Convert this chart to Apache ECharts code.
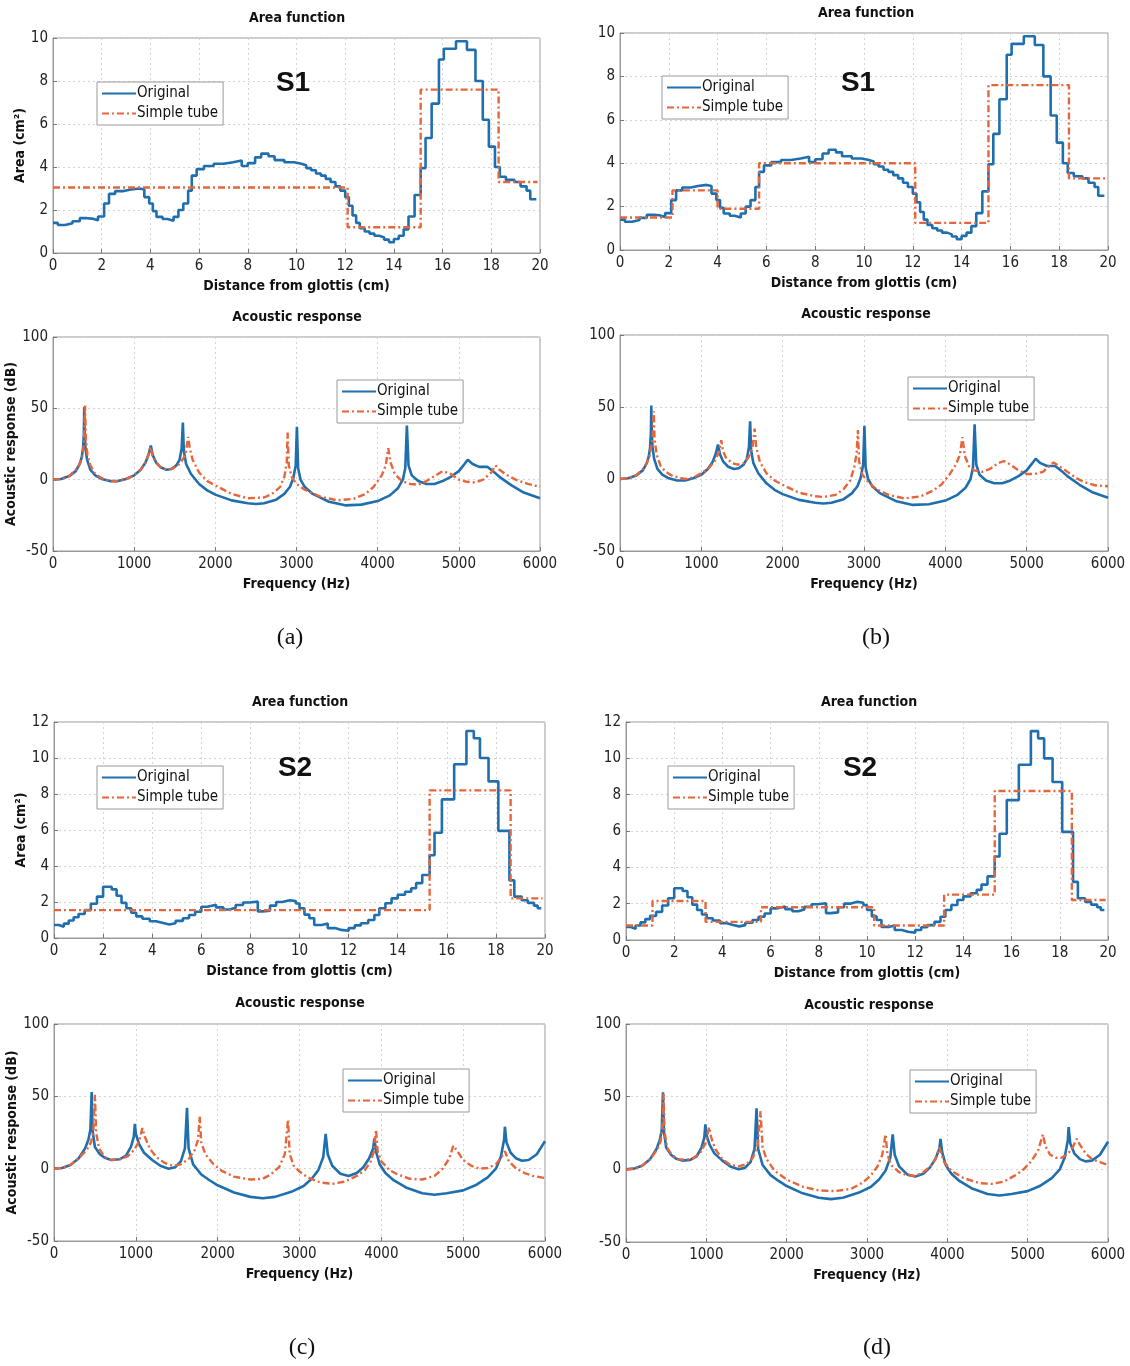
<!DOCTYPE html>
<html><head><meta charset="utf-8">
<script src="https://cdn.jsdelivr.net/npm/echarts@6/dist/echarts.min.js"></script>
<style>html,body{margin:0;padding:0;background:#fff}#c{width:1130px;height:1366px}</style>
</head><body><div id="c"></div>
<script>
// ---------- Area functions (step: value holds from x to next x) ----------
const s1OrigX = [0,0.2,0.5,0.8,1.1,1.4,1.6,1.85,2.1,2.3,2.55,2.9,3.2,3.55,3.75,3.95,4.1,4.25,4.5,4.7,4.95,5.15,5.35,5.55,5.7,5.9,6.2,6.6,7.0,7.4,7.75,8.0,8.3,8.55,8.85,9.1,9.5,9.9,10.2,10.4,10.6,10.8,11.0,11.2,11.4,11.6,11.8,12.0,12.15,12.3,12.45,12.6,12.8,13.0,13.2,13.4,13.6,13.8,14.0,14.2,14.4,14.6,14.85,15.1,15.3,15.55,15.85,16.05,16.55,17.0,17.35,17.65,17.9,18.15,18.35,18.6,18.95,19.2,19.45,19.6,19.85];
const s1OrigY = [1.4,1.3,1.38,1.48,1.62,1.6,1.52,1.7,2.3,2.75,2.88,2.95,3.0,2.95,2.6,2.3,1.95,1.68,1.58,1.5,1.68,2.0,2.3,2.9,3.6,3.9,4.05,4.15,4.22,4.3,4.05,4.18,4.45,4.62,4.5,4.32,4.22,4.15,4.08,3.95,3.85,3.7,3.6,3.45,3.3,3.1,2.9,2.6,2.2,1.75,1.4,1.15,1.0,0.9,0.8,0.72,0.62,0.5,0.65,0.8,1.1,1.7,2.7,3.95,5.35,6.95,9.0,9.5,9.85,9.45,8.0,6.2,4.95,4.0,3.55,3.4,3.3,3.1,2.9,2.5,2.5];
const s1SimpleAX = [0,12.1,15.1,18.3,19.9];
const s1SimpleAY = [3.05,1.2,7.6,3.3,3.3];
const s1SimpleBX = [0,2.15,4.0,5.7,12.1,15.1,18.4,19.9];
const s1SimpleBY = [1.5,2.75,1.9,4.0,1.25,7.6,3.3,3.3];

const s2OrigX = [0,0.2,0.4,0.6,0.8,1.0,1.25,1.5,1.75,2.0,2.35,2.55,2.75,2.95,3.15,3.35,3.6,3.9,4.15,4.45,4.7,4.95,5.25,5.5,5.75,6.0,6.25,6.6,6.9,7.15,7.4,7.7,7.95,8.3,8.5,8.8,9.05,9.3,9.6,9.85,10.0,10.2,10.4,10.6,10.9,11.15,11.45,11.7,12.0,12.25,12.5,12.8,13.05,13.25,13.5,13.75,14.0,14.3,14.55,14.75,15.0,15.3,15.5,15.8,16.3,16.8,17.1,17.35,17.7,18.1,18.55,18.75,19.05,19.3,19.55,19.7,19.85];
const s2OrigY = [0.72,0.62,0.8,0.97,1.15,1.33,1.55,1.9,2.3,2.85,2.7,2.35,1.95,1.65,1.4,1.2,1.07,0.93,0.83,0.75,0.82,0.95,1.1,1.28,1.46,1.74,1.85,1.7,1.58,1.68,1.83,1.97,2.02,1.48,1.52,1.8,2.0,2.1,2.05,1.92,1.65,1.3,1.1,0.72,0.8,0.55,0.45,0.4,0.55,0.7,0.82,1.0,1.28,1.65,1.93,2.2,2.4,2.57,2.76,3.05,3.5,4.6,5.85,7.7,9.65,11.5,11.1,10.0,8.7,5.95,3.2,2.3,2.1,1.95,1.8,1.65,1.65];
const s2SimpleCX = [0,15.3,18.6,19.9];
const s2SimpleCY = [1.55,8.2,2.2,2.2];
const s2SimpleDX = [0,1.1,3.3,5.6,10.3,13.2,15.3,18.5,19.9];
const s2SimpleDY = [0.8,2.15,1.0,1.8,0.8,2.5,8.2,2.2,2.2];

// ---------- Acoustic responses [Hz, dB] ----------
const s1OrigResp = [[0,0],[100,0.5],[200,2.5],[280,6],[330,11],[355,16],[370,22],[380,32],[385,51],[390,33],[400,22],[420,14],[460,7],[520,3],[600,0.5],[700,-1],[800,-1],[900,0.5],[1000,3],[1080,7],[1140,12],[1180,18],[1205,24],[1230,17],[1270,12],[1330,8.5],[1400,7],[1460,7.5],[1520,10],[1560,14],[1585,22],[1600,40],[1612,20],[1640,11],[1700,4],[1800,-3],[1900,-7.5],[2000,-10.5],[2200,-14.5],[2400,-16.5],[2500,-17],[2600,-16.5],[2750,-14],[2850,-10],[2920,-5],[2960,1],[2990,10],[3005,37],[3020,8],[3050,0],[3100,-5],[3200,-10],[3400,-15.5],[3600,-18],[3800,-17.5],[4000,-15],[4150,-11],[4250,-6],[4310,0],[4340,8],[4360,38],[4380,10],[4420,3],[4500,-1],[4600,-3],[4700,-3],[4800,-1],[4900,2],[5000,6],[5070,11],[5110,14],[5170,11],[5250,9],[5350,9],[5420,6],[5500,2],[5650,-4],[5800,-9],[6000,-13]];
const s1SimpleARespData = [[0,0],[100,0.5],[200,2.5],[300,8],[350,14],[380,24],[395,52],[405,28],[425,17],[460,10],[520,4],[600,1],[700,-1],[800,-1],[900,0.5],[1000,3],[1080,7],[1140,12],[1180,18],[1200,23],[1225,17],[1270,12],[1330,8.5],[1400,7],[1480,8],[1560,11],[1630,17],[1665,30],[1685,22],[1720,14],[1800,5],[1900,-1],[2000,-4],[2200,-10],[2400,-13],[2600,-12.5],[2700,-10],[2800,-5],[2850,2],[2880,12],[2890,33],[2905,10],[2940,2],[3000,-3],[3100,-7],[3300,-12],[3500,-14.5],[3700,-13.5],[3850,-10],[3950,-5],[4050,3],[4100,10],[4130,22],[4160,12],[4210,4],[4300,-1],[4400,-3],[4500,-3.5],[4600,-1],[4700,2.5],[4800,6],[4900,4],[5000,0],[5100,-1.5],[5200,-2],[5300,0],[5400,5],[5450,10],[5500,7],[5600,3],[5700,0],[5850,-3],[6000,-5]];
const s1SimpleBRespData = [[0,0],[100,0.5],[200,2.5],[300,8],[360,15],[400,28],[415,47],[425,28],[450,17],[500,9],[560,5],[650,2],[800,0],[900,1],[1000,4],[1100,8],[1170,13],[1220,19],[1245,27],[1265,20],[1300,15],[1380,11],[1450,10],[1520,11],[1580,15],[1630,22],[1655,35],[1675,22],[1720,12],[1800,4],[1900,-1],[2000,-4],[2200,-9.5],[2400,-12],[2500,-12.5],[2650,-11],[2750,-7],[2830,-1],[2880,8],[2910,18],[2925,34],[2940,12],[2980,3],[3050,-2],[3150,-7],[3300,-11],[3500,-13.5],[3700,-12],[3850,-8],[3950,-4],[4050,3],[4130,10],[4180,17],[4210,29],[4240,16],[4290,9],[4350,6],[4450,5],[4550,7],[4650,11],[4720,12.5],[4800,10],[4900,6],[5000,3.5],[5100,3.5],[5200,5],[5280,9],[5330,11.5],[5400,9],[5500,5],[5600,1],[5700,-2],[5850,-4.5],[6000,-5]];
const s2OrigResp = [[0,0],[100,0.5],[200,2.5],[300,7],[380,14],[420,20],[445,27],[460,53],[472,26],[500,15],[560,10],[620,7.5],[700,6],[800,6.5],[880,9],[940,15],[975,22],[988,31],[1000,24],[1040,17],[1100,11],[1200,6],[1300,2],[1400,0],[1480,1],[1550,5],[1600,14],[1625,42],[1645,14],[1700,3],[1800,-4],[1900,-8],[2000,-11.5],[2200,-16.5],[2400,-19.5],[2550,-20.5],[2700,-19.5],[2900,-16],[3050,-12],[3150,-7],[3230,-1],[3290,8],[3320,24],[3345,10],[3400,2],[3500,-3.5],[3600,-5],[3700,-3],[3780,1],[3850,7],[3900,14],[3915,21],[3935,12],[3980,3],[4050,-3],[4150,-8],[4300,-13],[4500,-17],[4650,-18],[4800,-17],[5000,-15],[5150,-11.5],[5300,-6],[5400,0],[5460,8],[5500,20],[5510,29],[5530,18],[5580,11],[5650,7],[5720,5.5],[5800,6],[5900,10],[6000,19]];
const s2SimpleCRespData = [[0,0],[100,0.5],[200,2.5],[300,7],[400,13],[450,18],[480,25],[500,51],[515,25],[550,14],[620,8],[700,6],[800,6.5],[900,8.5],[980,13],[1040,19],[1080,28],[1110,22],[1170,14],[1250,8],[1350,4],[1450,2],[1550,3],[1650,7],[1720,13],[1760,20],[1780,36],[1800,18],[1850,10],[1950,3],[2050,-1.5],[2200,-5.5],[2400,-7.5],[2550,-7],[2650,-4],[2750,1],[2820,10],[2860,34],[2880,10],[2930,2],[3000,-2],[3100,-6],[3250,-9.5],[3400,-10.5],[3550,-9],[3700,-5],[3800,-1],[3870,5],[3910,12],[3935,27],[3955,12],[4000,5],[4100,-1],[4200,-4],[4350,-7],[4500,-7.5],[4650,-5],[4750,0],[4830,7],[4880,16],[4930,12],[5000,6],[5100,2],[5200,0],[5300,0.5],[5400,3],[5480,9],[5510,12],[5560,5],[5650,0],[5750,-3],[5850,-5],[6000,-6.5]];
const s2SimpleDRespData = [[0,0],[100,0.5],[200,2.5],[300,7],[380,13],[430,19],[455,30],[468,52],[480,26],[510,15],[570,10],[650,7],[750,6.5],[850,8],[930,12],[990,18],[1035,29],[1060,22],[1110,14],[1200,7],[1300,3],[1400,2],[1500,3.5],[1580,8],[1640,17],[1675,40],[1700,15],[1750,7],[1850,-1],[2000,-7],[2200,-12],[2400,-14.5],[2600,-15],[2800,-13.5],[2950,-9],[3050,-4],[3130,2],[3190,10],[3230,24],[3255,10],[3300,3],[3400,-2],[3500,-4],[3600,-4.5],[3700,-2],[3800,2.5],[3860,8],[3900,15],[3920,12],[3960,5],[4050,-1],[4200,-6],[4400,-9.5],[4550,-10],[4700,-8.5],[4850,-4],[4950,0],[5050,6],[5130,13],[5190,24],[5220,16],[5280,10],[5350,8],[5420,8],[5500,10.5],[5560,15],[5610,21],[5650,17],[5720,11],[5800,7],[5900,5],[6000,3]];

// ---------- labels ----------
const seriesNames = ['Original','Simple tube'];
const panelCaptions = ['(a)','(b)','(c)','(d)'];
const speakerLabels = ['S1','S1','S2','S2'];

// ---------- layout ----------
const FONT = "'Liberation Sans Narrow','Arial Narrow','DejaVu Sans Condensed','Liberation Sans',sans-serif";
const BLUE = '#1f6fae', ORANGE = '#e6663b';
const panels = [
  {l:53, r:540, t:38, b:253, kind:'area', ymax:10, yname:'Area (cm²)', orig:[s1OrigX,s1OrigY], simp:[s1SimpleAX,s1SimpleAY], leg:[97,82], title:[297,18]},
  {l:53, r:540, t:337, b:551, kind:'resp', yname:'Acoustic response (dB)', orig:s1OrigResp, simp:s1SimpleARespData, leg:[337,380], title:[297,317]},
  {l:620, r:1108, t:33, b:250, kind:'area', ymax:10, yname:'', orig:[s1OrigX,s1OrigY], simp:[s1SimpleBX,s1SimpleBY], leg:[662,76], title:[866,13]},
  {l:620, r:1108, t:335, b:551, kind:'resp', yname:'', orig:s1OrigResp, simp:s1SimpleBRespData, leg:[908,377], title:[866,314]},
  {l:54, r:545, t:722, b:938, kind:'area', ymax:12, yname:'Area (cm²)', orig:[s2OrigX,s2OrigY], simp:[s2SimpleCX,s2SimpleCY], leg:[97,766], title:[300,702]},
  {l:54, r:545, t:1024, b:1241, kind:'resp', yname:'Acoustic response (dB)', orig:s2OrigResp, simp:s2SimpleCRespData, leg:[343,1069], title:[300,1003]},
  {l:626, r:1108, t:722, b:940, kind:'area', ymax:12, yname:'', orig:[s2OrigX,s2OrigY], simp:[s2SimpleDX,s2SimpleDY], leg:[668,766], title:[869,702]},
  {l:626, r:1108, t:1024, b:1242, kind:'resp', yname:'', orig:s2OrigResp, simp:s2SimpleDRespData, leg:[910,1070], title:[869,1005]}
];
const speakerPos = [[293,83],[858,83],[295,768],[860,768]];
const captionPos = [[290,638],[876,638],[302,1348],[877,1348]];

const grid=[], xAxis=[], yAxis=[], series=[], legend=[], graphic=[];
const pair = (xs,ys) => xs.map((x,i)=>[x,ys[i]]);
const plain = v => String(v);

panels.forEach((p,i)=>{
  grid.push({left:p.l, top:p.t, width:p.r-p.l, height:p.b-p.t, show:true, borderColor:'#9a9a9a', borderWidth:1, backgroundColor:'#fff'});
  const isArea = p.kind==='area';
  xAxis.push({
    gridIndex:i, type:'value', min:0, max:isArea?20:6000, interval:isArea?2:1000,
    name:isArea?'Distance from glottis (cm)':'Frequency (Hz)', nameLocation:'middle', nameGap:26,
    nameTextStyle:{fontFamily:FONT, fontWeight:'bold', fontSize:14, color:'#111'},
    axisLine:{show:true, onZero:false, lineStyle:{color:'#9a9a9a'}}, axisTick:{show:true, inside:true, length:4, lineStyle:{color:'#777'}},
    axisLabel:{fontFamily:FONT, fontSize:15, color:'#222', margin:6, formatter:plain},
    splitLine:{show:true, lineStyle:{color:'#d4d4d4', type:[2,3]}}
  });
  yAxis.push({
    gridIndex:i, type:'value', min:isArea?0:-50, max:isArea?p.ymax:100, interval:isArea?2:50,
    name:p.yname, nameLocation:'middle', nameGap:isArea?26:35, nameRotate:90,
    nameTextStyle:{fontFamily:FONT, fontWeight:'bold', fontSize:14, color:'#111'},
    axisLine:{show:true, onZero:false, lineStyle:{color:'#9a9a9a'}}, axisTick:{show:true, inside:true, length:4, lineStyle:{color:'#777'}},
    axisLabel:{fontFamily:FONT, fontSize:15, color:'#222', margin:5, formatter:plain},
    splitLine:{show:true, lineStyle:{color:'#d4d4d4', type:[2,3]}}
  });
  const origData = isArea ? pair(p.orig[0],p.orig[1]) : p.orig;
  const simpData = isArea ? pair(p.simp[0],p.simp[1]) : p.simp;
  series.push({name:seriesNames[0], type:'line', xAxisIndex:i, yAxisIndex:i, data:origData, step:isArea?'end':false,
    symbol:'none', smooth:false, lineStyle:{color:BLUE, width:2.6}, itemStyle:{color:BLUE}, z:3, animation:false});
  series.push({name:seriesNames[1], type:'line', xAxisIndex:i, yAxisIndex:i, data:simpData, step:isArea?'end':false,
    symbol:'none', smooth:false, lineStyle:{color:ORANGE, width:2.4, type:[7,3,2,3]}, itemStyle:{color:ORANGE}, z:4, animation:false});
  legend.push({data:seriesNames, left:p.leg[0], top:p.leg[1], orient:'vertical', itemWidth:34, itemHeight:12, itemGap:5,
    padding:[4,5,4,4], backgroundColor:'#fff', borderColor:'#9a9a9a', borderWidth:1, borderRadius:0, selectedMode:false,
    itemStyle:{opacity:0},
    textStyle:{fontFamily:FONT, fontSize:15, color:'#111', padding:[0,0,0,-4]}});
  graphic.push({type:'text', x:p.title[0], y:p.title[1], z:10, style:{text:isArea?'Area function':'Acoustic response',
    font:"bold 14px "+FONT, fill:'#111', align:'center', verticalAlign:'middle', textAlign:'center', textVerticalAlign:'middle'}});
});
speakerLabels.forEach((s,i)=>{
  graphic.push({type:'text', x:speakerPos[i][0], y:speakerPos[i][1], z:10, style:{text:s,
    font:"bold 28px 'Liberation Sans',Arial,sans-serif", fill:'#111', align:'center', verticalAlign:'middle', textAlign:'center', textVerticalAlign:'middle'}});
});
panelCaptions.forEach((s,i)=>{
  graphic.push({type:'text', x:captionPos[i][0], y:captionPos[i][1], z:10, style:{text:s,
    font:"24px 'Liberation Serif','DejaVu Serif',serif", fill:'#111', align:'center', verticalAlign:'middle', textAlign:'center', textVerticalAlign:'middle'}});
});

const chart = echarts.init(document.getElementById('c'), null, {renderer:'canvas'});
chart.setOption({backgroundColor:'#fff', animation:false, grid, xAxis, yAxis, series, legend, graphic});
</script></body></html>
